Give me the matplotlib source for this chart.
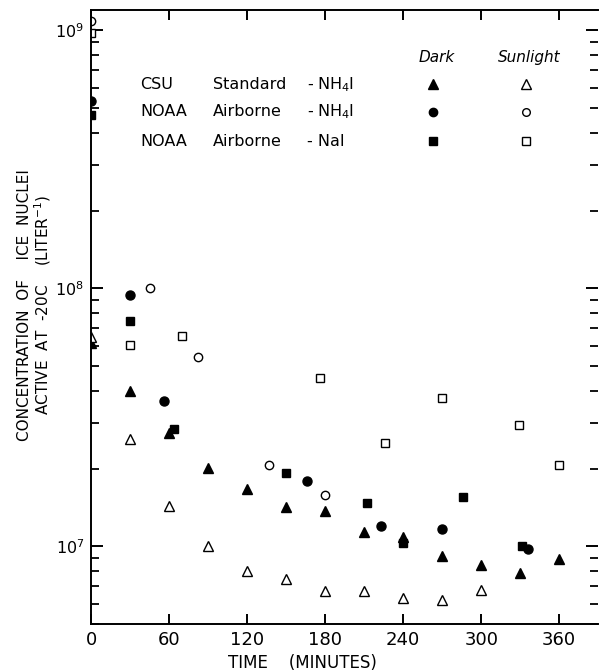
#!/usr/bin/env python3
"""Ice nuclei concentration vs. time, dark and sunlight runs."""
import matplotlib
matplotlib.use("Agg")
import matplotlib.pyplot as plt
from matplotlib.ticker import LogLocator, FixedLocator, NullFormatter

# CSU standard NH4I
csu_dark_t = [0, 30, 60, 90, 120, 150, 180, 210, 240, 270, 300, 330, 360]
csu_dark_c = [6.14e7, 4.0e7, 2.75e7, 2.01e7, 1.67e7, 1.42e7, 1.37e7, 1.14e7, 1.09e7, 9.17e6, 8.49e6, 7.88e6, 8.96e6]
csu_sun_t = [0, 30, 60, 90, 120, 150, 180, 210, 240, 270, 300]
csu_sun_c = [6.5e7, 2.61e7, 1.43e7, 1.0e7, 8.05e6, 7.47e6, 6.71e6, 6.71e6, 6.31e6, 6.19e6, 6.79e6]

# NOAA airborne NH4I
nh4_dark_t = [0, 30, 56, 166, 223, 270, 336]
nh4_dark_c = [5.35e8, 9.45e7, 3.67e7, 1.79e7, 1.20e7, 1.17e7, 9.76e6]
nh4_sun_t = [0, 45, 82, 137, 180]
nh4_sun_c = [1.09e9, 1.0e8, 5.43e7, 2.06e7, 1.58e7]

# NOAA airborne NaI
nai_dark_t = [0, 30, 64, 150, 212, 240, 286, 331]
nai_dark_c = [4.7e8, 7.5e7, 2.86e7, 1.92e7, 1.47e7, 1.03e7, 1.56e7, 1.0e7]
nai_sun_t = [0, 30, 70, 176, 226, 270, 329, 360]
nai_sun_c = [9.8e8, 6.03e7, 6.53e7, 4.49e7, 2.52e7, 3.77e7, 2.95e7, 2.07e7]

x_ticks = [0, 60, 120, 180, 240, 300, 360]
legend_source = ["CSU", "NOAA", "NOAA"]
legend_kind = ["Standard", "Airborne", "Airborne"]
legend_agent = ["- NH$_4$I", "- NH$_4$I", "- NaI"]
legend_headers = ["Dark", "Sunlight"]

plt.rcParams["font.family"] = "DejaVu Sans"

fig = plt.figure(figsize=(6.0, 6.71), dpi=100)
ax = fig.add_axes([0.152, 0.070, 0.845, 0.915])

series = [
    (csu_dark_t, csu_dark_c, "^", True, 7.5),
    (csu_sun_t, csu_sun_c, "^", False, 7.0),
    (nh4_dark_t, nh4_dark_c, "o", True, 6.5),
    (nh4_sun_t, nh4_sun_c, "o", False, 6.0),
    (nai_dark_t, nai_dark_c, "s", True, 6.0),
    (nai_sun_t, nai_sun_c, "s", False, 5.5),
]
for t, c, m, filled, ms in series:
    ax.plot(t, c, linestyle="none", marker=m, markersize=ms,
            markerfacecolor="black" if filled else "white",
            markeredgecolor="black", markeredgewidth=1.0)

ax.set_yscale("log")
ax.set_xlim(0, 390)
ax.set_ylim(5.0e6, 1.2e9)

ax.xaxis.set_major_locator(FixedLocator(x_ticks))
ax.yaxis.set_major_locator(LogLocator(base=10, numticks=10))
ax.yaxis.set_minor_locator(LogLocator(base=10, subs=range(2, 10), numticks=20))
ax.yaxis.set_minor_formatter(NullFormatter())

ax.tick_params(axis="x", which="major", direction="in", top=True, length=7.5, width=1.4,
               labelsize=13, pad=5)
ax.tick_params(axis="y", which="major", direction="in", right=True, length=8.6, width=1.4,
               labelsize=11.5, pad=5)
ax.tick_params(axis="y", which="minor", direction="in", right=True, length=5.8, width=1.3)

for side in ["left", "bottom", "top"]:
    ax.spines[side].set_linewidth(1.4)
ax.spines["right"].set_visible(False)

ax.set_xlabel("TIME    (MINUTES)", fontsize=12)
ax.xaxis.set_label_coords(0.416, -0.049)
ax.set_ylabel("CONCENTRATION  OF    ICE  NUCLEI\nACTIVE  AT  -20C    (LITER$^{-1}$)",
              fontsize=11, multialignment="center", linespacing=1.0)
ax.yaxis.set_label_coords(-0.075, 0.52)

# legend table drawn as text
row_y = [0.879, 0.834, 0.786]
for i, y in enumerate(row_y):
    ax.text(0.097, y, legend_source[i], transform=ax.transAxes, fontsize=11.5, va="center")
    ax.text(0.240, y, legend_kind[i], transform=ax.transAxes, fontsize=11.5, va="center")
    ax.text(0.426, y, legend_agent[i], transform=ax.transAxes, fontsize=11.5, va="center")
ax.text(0.682, 0.923, legend_headers[0], transform=ax.transAxes, fontsize=11,
        style="italic", ha="center", va="center")
ax.text(0.864, 0.923, legend_headers[1], transform=ax.transAxes, fontsize=11,
        style="italic", ha="center", va="center")
for (m, ms_d, ms_s), y in zip([("^", 7.0, 6.5), ("o", 6.0, 5.5), ("s", 6.0, 5.5)], row_y):
    ax.plot([0.675], [y], marker=m, markersize=ms_d, color="black", linestyle="none",
            transform=ax.transAxes, clip_on=False)
    ax.plot([0.858], [y], marker=m, markersize=ms_s, markerfacecolor="white",
            markeredgecolor="black", markeredgewidth=1.0, linestyle="none",
            transform=ax.transAxes, clip_on=False)

fig.savefig("out.png", dpi=100)
plt.close(fig)
